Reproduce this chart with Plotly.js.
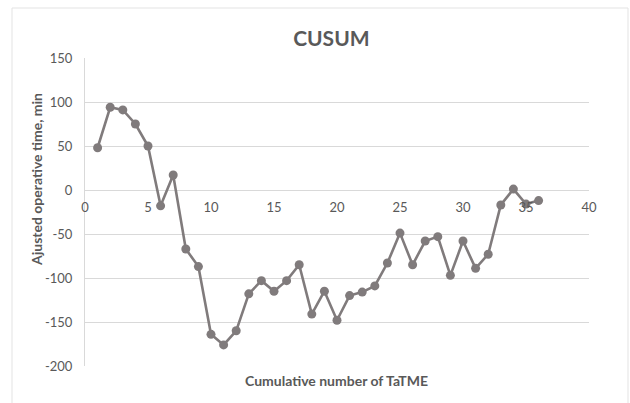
<!DOCTYPE html>
<html>
<head>
<meta charset="utf-8">
<script src="https://cdn.plot.ly/plotly-3.0.1.min.js"></script>
<style>html,body{margin:0;padding:0;background:#fff;}#chart{width:630px;height:403px;}</style>
</head>
<body>
<div id="chart"></div>
<script>
const caseNumber = [1,2,3,4,5,6,7,8,9,10,11,12,13,14,15,16,17,18,19,20,21,22,23,24,25,26,27,28,29,30,31,32,33,34,35,36];
const cusumValues = [48,94,91,75,50,-18,17,-67,-87,-164,-176,-160,-118,-103,-115,-103,-85,-141,-115,-148,-120,-116,-109,-83,-49,-85,-58,-53,-97,-58,-89,-73,-17,1,-16,-12];
const xTicks = [0,5,10,15,20,25,30,35,40];
const yTicks = [150,100,50,0,-50,-100,-150,-200];

const font = 'Lato, "Open Sans", sans-serif';
const grey = '#595959';

const trace = {
  x: caseNumber, y: cusumValues, type: 'scatter', mode: 'lines+markers',
  line: {color: '#807b7c', width: 2.6},
  marker: {color: '#807b7c', size: 9},
  hoverinfo: 'skip'
};

const layout = {
  width: 630, height: 403,
  margin: {l: 85, r: 41, t: 58, b: 37},
  paper_bgcolor: '#fff', plot_bgcolor: '#fff',
  showlegend: false,
  font: {family: font, color: grey, size: 13},
  title: {text: '<b>CUSUM</b>', font: {family: font, size: 21, color: grey}, x: 0.526, xanchor: 'center', y: 0.905, yanchor: 'middle'},
  xaxis: {
    range: [0, 40], tickvals: xTicks, ticktext: xTicks.map(String),
    showgrid: false, zeroline: false, showline: false, ticks: '',
    anchor: 'free', position: 176/308, ticklabelstandoff: 8,
    tickfont: {family: font, size: 13, color: grey}
  },
  yaxis: {
    range: [-200, 150], tickvals: yTicks, ticktext: yTicks.map(String),
    showgrid: true, gridcolor: '#d9d9d9', gridwidth: 1,
    zeroline: true, zerolinecolor: '#d9d9d9', zerolinewidth: 1,
    showline: true, linecolor: '#d9d9d9', linewidth: 1, ticks: '',
    tickfont: {family: font, size: 13, color: grey}, ticklabelstandoff: 9
  },
  shapes: [{
    type: 'rect', xref: 'paper', yref: 'paper',
    x0: (12-85)/504, x1: (628-85)/504, y0: -0.3, y1: (366-8)/308,
    line: {color: '#e3e3e3', width: 1}, fillcolor: 'rgba(0,0,0,0)', layer: 'below'
  }],
  annotations: [
    {text: '<b>Ajusted operative time, min</b>', xref: 'paper', yref: 'paper',
     x: (36-85)/504, y: (366-180)/308, textangle: -90, showarrow: false,
     xanchor: 'center', yanchor: 'middle', font: {family: font, size: 14, color: grey}},
    {text: '<b>Cumulative number of TaTME</b>', xref: 'paper', yref: 'paper',
     x: (336-85)/504, y: -(380-366)/308, showarrow: false,
     xanchor: 'center', yanchor: 'middle', font: {family: font, size: 14, color: grey}}
  ]
};

Plotly.newPlot('chart', [trace], layout, {displayModeBar: false, staticPlot: true});
</script>
</body>
</html>
